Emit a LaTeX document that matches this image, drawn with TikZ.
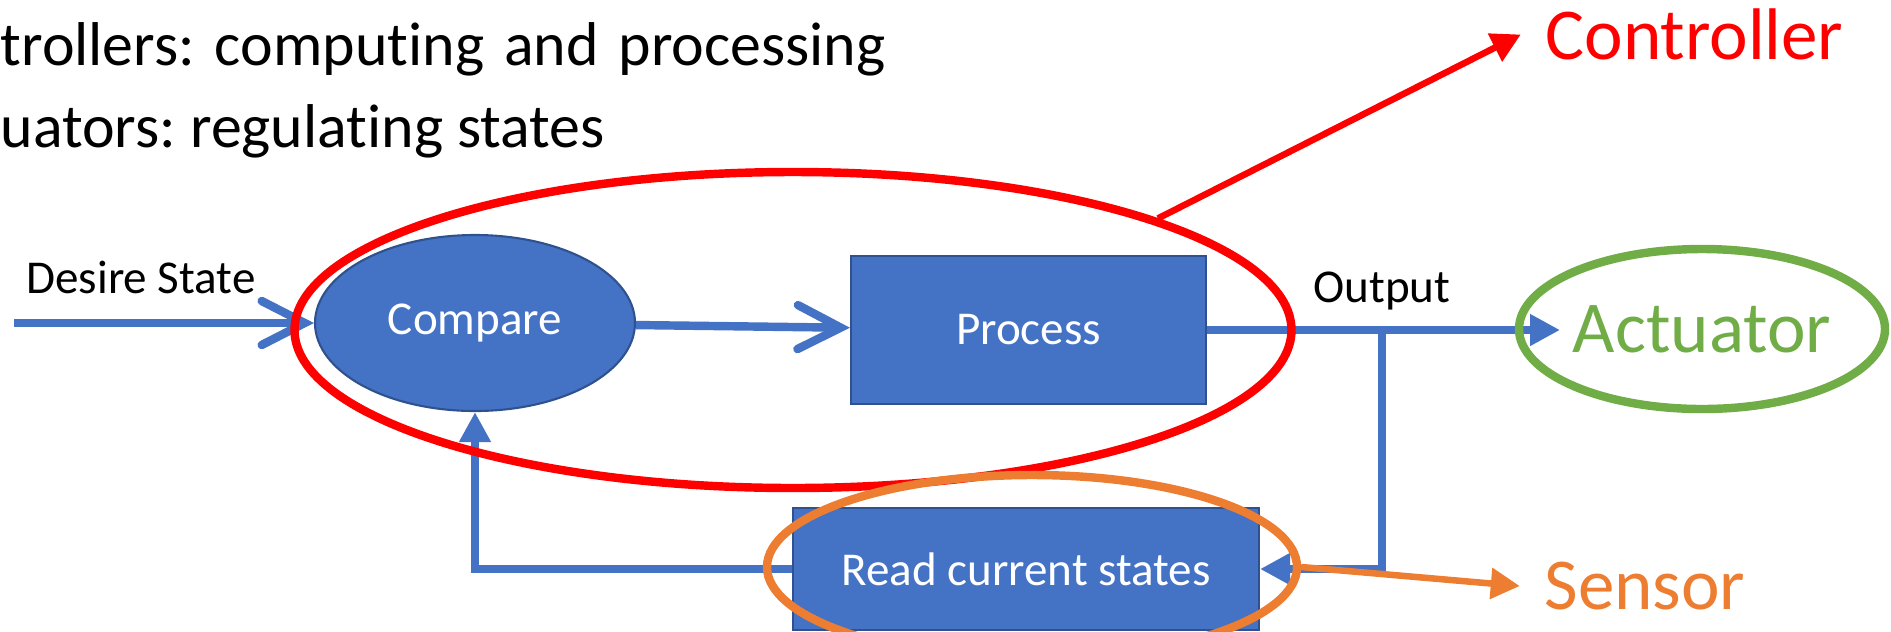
\documentclass[tikz,border=0pt]{standalone}
\usepackage{fontspec}
\setmainfont{Carlito}[Ligatures=NoCommon]
\frenchspacing
\usetikzlibrary{arrows.meta,shapes.geometric}

\definecolor{flowblue}{HTML}{4472C4}
\definecolor{edgeblue}{HTML}{2F528F}
\definecolor{ctrlred}{HTML}{FF0000}
\definecolor{sensorange}{HTML}{ED7D31}
\definecolor{actgreen}{HTML}{70AD47}

\newcommand{\boxfont}{\fontsize{13.4}{16}\selectfont}
\newcommand{\tagfont}{\fontsize{20.8}{25}\selectfont}
\newcommand{\notefont}{\fontsize{17.6}{23.3}\selectfont}

\tikzset{
  blockbox/.style={rectangle, fill=flowblue, draw=edgeblue, line width=0.6pt, text=white, font=\boxfont, inner sep=0pt},
  ovalbox/.style={ellipse, fill=flowblue, draw=edgeblue, line width=0.6pt, text=white, font=\boxfont, inner sep=0pt},
  flowline/.style={draw=flowblue, line width=2.4pt},
  openhead/.style={-{Straight Barb[length=4.3mm,width=4.4mm,line cap=round]}},
  solidhead/.style={-{Triangle[length=3mm,width=3mm]}},
  ring/.style={ellipse, draw=#1, line width=2.4pt, inner sep=0pt},
  tagtext/.style={font=\tagfont, text=#1, inner sep=2.4mm},
  pointer/.style={draw=#1, line width=1.85pt, -{Triangle[length=2.9mm,width=3mm]}},
}

\begin{document}
\begin{tikzpicture}
    \useasboundingbox (0,0) rectangle (18.91,6.31);

    % Notes at the top, running off the left edge
    \node[font=\notefont, anchor=base west, inner sep=0pt] (note1) at (0,5.66) {trollers:\hspace{0.6mm} computing\hspace{0.6mm} and\hspace{0.6mm} processing};
    \node[font=\notefont, anchor=base west, inner sep=0pt] (note2) at (0,4.84) {uators: regulating states};

    % Blocks of the loop
    \node[ovalbox, minimum width=3.2cm, minimum height=1.76cm] (compare) at (4.75,3.08) {Compare};
    \node[blockbox, minimum width=3.55cm, minimum height=1.48cm] (process) at (10.285,3.01) {Process};
    \node[blockbox, minimum width=4.66cm, minimum height=1.22cm] (read) at (10.26,0.62) {Read current states};

    % Input, output and the feedback tap
    \coordinate (desire) at (0.14,3.08);
    \coordinate (tap) at (13.82,3.01);
    \coordinate (outtip) at (15.6,3.01);
    \node[font=\boxfont, anchor=base] (desirelabel) at (1.41,3.38) {Desire State};
    \node[font=\boxfont, anchor=base] (outlabel) at (13.82,3.29) {Output};

    % Signal flow
    \draw[flowline, openhead] (desire) -- (compare.west);
    \draw[flowline, openhead] (compare) -- (process);
    \draw[flowline, solidhead] (process.east) -- (outtip);
    \draw[flowline, solidhead] (tap) |- (read.east);
    \draw[flowline, solidhead] (read.west) -| (compare.south);

    % Rings around the parts
    \node[ring=ctrlred, minimum width=9.97cm, minimum height=3.16cm] (ctrlring) at (7.93,3.01) {};
    \node[ring=sensorange, minimum width=5.3cm, minimum height=1.84cm] (sensring) at (10.32,0.64) {};
    \node[ring=actgreen, minimum width=3.66cm, minimum height=1.6cm, font=\tagfont, text=actgreen] (actuator) at (17.02,3.02) {Actuator};

    % Names of the parts
    \node[tagtext=ctrlred] (controller) at (16.945,5.965) {Controller};
    \node[tagtext=sensorange] (sensor) at (16.45,0.45) {Sensor};
    \draw[pointer=ctrlred] (ctrlring.17.4) -- (controller.west);
    \draw[pointer=sensorange] (sensring.east) -- (sensor.west);

\end{tikzpicture}
\end{document}
